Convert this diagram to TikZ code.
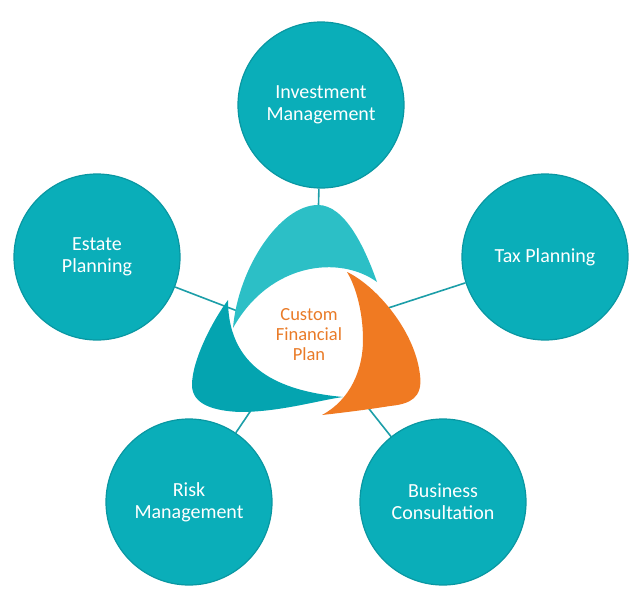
\documentclass[tikz,border=0pt]{standalone}
\usepackage{fontspec}
\setmainfont{Carlito}
\definecolor{circfill}{HTML}{0AAEB9}
\definecolor{circrim}{HTML}{0997A2}
\definecolor{lightteal}{HTML}{2CBFC6}
\definecolor{darkteal}{HTML}{04A4B0}
\definecolor{orangepc}{HTML}{F07A22}
\definecolor{orangetxt}{HTML}{E97B28}
\definecolor{linkcol}{HTML}{1C9EA8}
\tikzset{
  bubble/.style={circle, minimum size=166pt, inner sep=0pt, fill=circfill, draw=circrim, line width=1.2pt, text=white, align=center, font=\fontsize{20}{22}\selectfont},
  link/.style={draw=linkcol, line width=1.6pt},
  centertext/.style={text=orangetxt, align=center, font=\fontsize{18.5}{20}\selectfont}
}
\begin{document}
\begin{tikzpicture}[x=1pt,y=-1pt]
\useasboundingbox (0,0) rectangle (641,597);
% circles
\node[bubble] (inv) at (321,105) {Investment\\Management};
\node[bubble] (est) at (97,257) {Estate\\Planning};
\node[bubble] (tax) at (545,257) {Tax Planning};
\node[bubble] (risk) at (189,502) {Risk\\Management};
\node[bubble] (bus) at (443,502) {Business\\Consultation};
% inner ends of connectors (hidden under the pieces)
\coordinate (cinv) at (318,225);
\coordinate (cest) at (240,312);
\coordinate (ctax) at (382,310);
\coordinate (crisk) at (258,400);
\coordinate (cbus) at (362,400);
\draw[link] (inv) -- (cinv);
\draw[link] (est) -- (cest);
\draw[link] (tax) -- (ctax);
\draw[link] (risk) -- (crisk);
\draw[link] (bus) -- (cbus);
% top piece
\fill[lightteal] (233,328) .. controls (238,268) and (280,205) .. (318,205)
  .. controls (345,205) and (365,248) .. (377,282)
  .. controls (340,255) and (270,262) .. (233,328) -- cycle;
% bottom-left piece
\fill[darkteal] (228,300) .. controls (213,320) and (192,360) .. (192,385)
  .. controls (192,405) and (215,411) .. (240,412)
  .. controls (280,412) and (320,400) .. (343,397)
  .. controls (290,392) and (228,375) .. (228,300) -- cycle;
% orange piece
\fill[orangepc] (347,272) .. controls (375,285) and (415,330) .. (420,375)
  .. controls (423,398) and (410,404) .. (390,406)
  .. controls (365,410) and (340,413) .. (322,415)
  .. controls (350,400) and (363,370) .. (363,340)
  .. controls (363,310) and (355,285) .. (347,272) -- cycle;
\node[centertext] (plan) at (309,335) {Custom\\Financial\\Plan};
\end{tikzpicture}
\end{document}
